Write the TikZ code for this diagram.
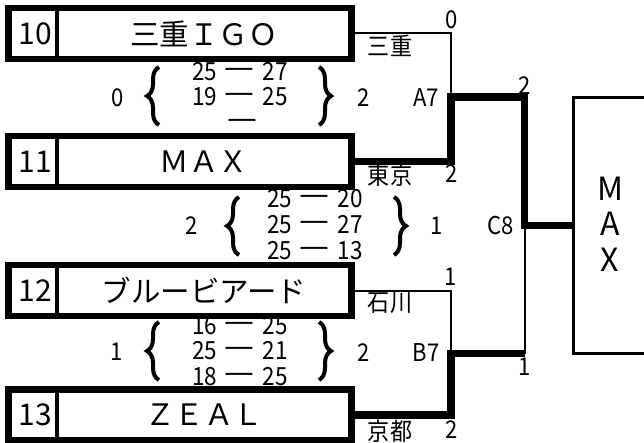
\documentclass[tikz,border=0pt]{standalone}
\usepackage{fontspec}
\setmainfont{Noto Sans CJK JP}
\newfontfamily\labfont{Noto Sans CJK JP}[FakeStretch=0.9]
\newfontfamily\dashfont{Noto Sans CJK JP}[FakeStretch=1.3,FakeBold=2.5]
\newcommand{\sdash}{\hspace{2pt}\smash{\raisebox{0.2em}{\dashfont —}}\hspace{4pt}}
\usetikzlibrary{decorations.pathreplacing}
\tikzset{
  teambox/.style={draw, line width=6.5pt, minimum width=343pt, minimum height=51pt, inner sep=0pt, outer sep=0pt},
  divider/.style={line width=3.3pt},
  numtext/.style={font=\fontsize{30}{30}\selectfont, inner sep=0pt},
  nametext/.style={font=\fontsize{29.5}{30}\selectfont, inner sep=0pt},
  lab/.style={font=\labfont\fontsize{24.5}{24.5}\selectfont, inner sep=0pt},
  score/.style={font=\labfont\fontsize{25}{25}\selectfont, inner sep=0pt},
  winline/.style={line width=7.5pt, line join=miter},
  loseline/.style={line width=2pt},
  bracebig/.style={decorate, decoration={brace, amplitude=12pt}, line width=4pt},
  finbox/.style={draw, line width=2.8pt, minimum width=74pt, minimum height=256pt, inner sep=0pt, outer sep=0pt},
  fintext/.style={font=\fontsize{32}{35.5}\selectfont, align=center, inner sep=0pt},
}
\begin{document}
\begin{tikzpicture}[x=1pt, y=-1pt]
\useasboundingbox (0,0) rectangle (644,443);
\clip (0,0) rectangle (644,443);

% team boxes
\node[teambox] (t10) at (180,33.5) {};
\node[teambox] (t11) at (180,161.5) {};
\node[teambox] (t12) at (180,290.5) {};
\node[teambox] (t13) at (180,415) {};
\foreach \t in {t10,t11,t12,t13}{
  \draw[divider] (57,0 |- \t.north) -- (57,0 |- \t.south);
}
\node[numtext] (n10) at (35,33.5) {10};
\node[numtext] (n11) at (35,161.5) {11};
\node[numtext] (n12) at (35,290.5) {12};
\node[numtext] (n13) at (35,415) {13};
\node[nametext] (m10) at (204,33.5) {三重ＩＧＯ};
\node[nametext] (m11) at (204,161.5) {ＭＡＸ};
\node[nametext] (m12) at (204,290.5) {ブルービアード};
\node[nametext] (m13) at (204,415) {ＺＥＡＬ};

% final box
\node[finbox] (fin) at (610.5,225.5) {};
\node[fintext] (fint) at (610,224) {M\\A\\X};

% junctions
\coordinate (a7) at (451,97);
\coordinate (b7) at (451,353.5);
\coordinate (c8) at (524.5,225.5);
\coordinate (b7end) at (524.5,353.5);

% connectors
\draw[loseline] (t10.east) -| (a7);
\draw[loseline] (t12.east) -| (b7);
\draw[loseline] (b7end) -- (c8);
\draw[winline] (t11.east) -| (a7) -| (c8) -- (fin.west);
\draw[winline] (t13.east) -| (b7) -- (b7end);

% bracket labels
\node[lab] (l0) at (452,20) {0};
\node[lab] (lmie) at (390,46) {三重};
\node[lab] (la2) at (364,98) {2};
\node[lab] (la7) at (426,98) {A7};
\node[lab] (lc2) at (525,86) {2};
\node[lab] (ltk) at (390,175) {東京};
\node[lab] (ltk2) at (452,174) {2};
\node[lab] (lc1) at (437,226) {1};
\node[lab] (lc8) at (501,226) {C8};
\node[lab] (lis1) at (451,277) {1};
\node[lab] (lis) at (390,303) {石川};
\node[lab] (lb2) at (364,353) {2};
\node[lab] (lb7) at (426,353) {B7};
\node[lab] (lc1b) at (525,367) {1};
\node[lab] (lky) at (390,431) {京都};
\node[lab] (lky2) at (452,430) {2};

% score block 1
\node[lab] (sa0) at (118,98) {0};
\node[score] (sa1) at (240,72) {25 \sdash{} 27};
\node[score] (sa2) at (240,97) {19 \sdash{} 25};
\node[score] (sa3) at (241,123) {\vphantom{0}\sdash};
\draw[bracebig] (159,125) -- (159,67);
\draw[bracebig] (319,67) -- (319,125);

% score block 2
\node[lab] (sb0) at (192,225.5) {2};
\node[score] (sb1) at (315,199) {25 \sdash{} 20};
\node[score] (sb2) at (315,225) {25 \sdash{} 27};
\node[score] (sb3) at (315,251) {25 \sdash{} 13};
\draw[bracebig] (239,255) -- (239,197);
\draw[bracebig] (394,197) -- (394,255);

% score block 3
\node[lab] (sc0) at (117,352) {1};
\node[score] (sc1) at (240,326) {16 \sdash{} 25};
\node[score] (sc2) at (240,351) {25 \sdash{} 21};
\node[score] (sc3) at (240,377) {18 \sdash{} 25};
\draw[bracebig] (159,380) -- (159,322);
\draw[bracebig] (319,322) -- (319,380);
\end{tikzpicture}
\end{document}
